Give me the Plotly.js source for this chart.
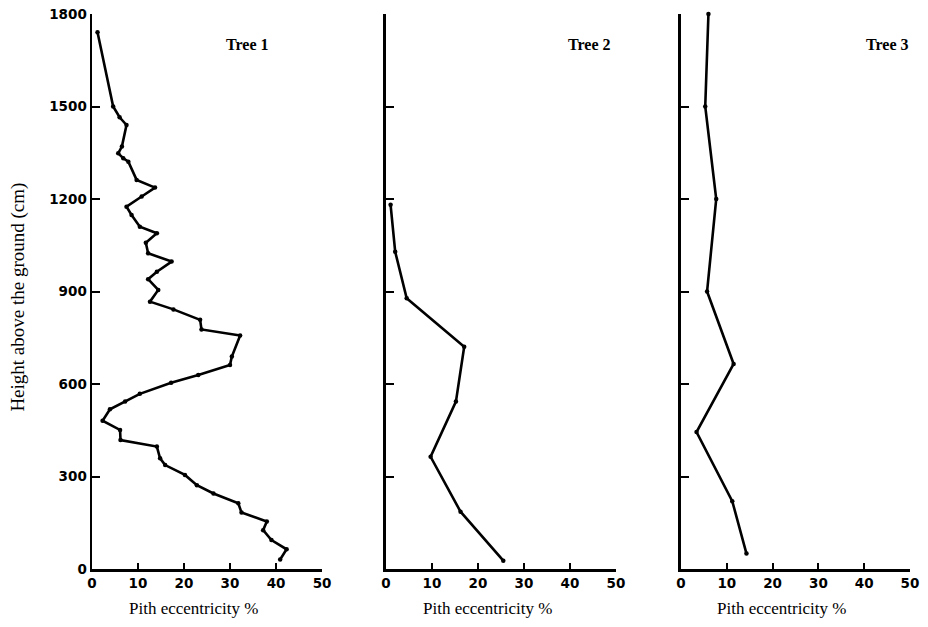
<!DOCTYPE html>
<html>
<head>
<meta charset="utf-8">
<script src="https://cdn.plot.ly/plotly-3.0.1.min.js"></script>
<style>html,body{margin:0;padding:0;background:#fff;}#chart{width:928px;height:627px;}</style>
</head>
<body>
<div id="chart"></div>
<script>
// Tree 1: height above ground (cm) and pith eccentricity (%)
const tree1Height = [1741, 1500, 1465, 1440, 1370, 1348, 1332, 1321, 1262, 1237, 1208, 1175, 1148, 1110, 1089, 1058, 1024, 997, 964, 940, 905, 867, 842, 808, 777, 757, 689, 662, 629, 604, 568, 543, 518, 481, 451, 418, 397, 359, 337, 305, 272, 245, 213, 183, 154, 126, 94, 64, 31];
const tree1Ecc    = [1.2, 4.6, 6.0, 7.5, 6.5, 5.7, 6.8, 7.9, 9.7, 13.7, 10.8, 7.5, 8.6, 10.4, 14.1, 11.7, 12.2, 17.3, 14.1, 12.2, 14.4, 12.6, 17.7, 23.5, 23.8, 32.2, 30.4, 30.0, 23.1, 17.2, 10.4, 7.2, 3.9, 2.3, 6.1, 6.2, 14.1, 14.8, 15.9, 20.2, 22.8, 26.4, 31.8, 32.5, 38.0, 37.2, 39.0, 42.3, 40.9];
// Tree 2
const tree2Height = [1181, 1029, 878, 721, 543, 364, 186, 27];
const tree2Ecc    = [1.0, 2.0, 4.5, 17.0, 15.2, 9.7, 16.2, 25.5];
// Tree 3
const tree3Height = [1800, 1500, 1200, 900, 665, 444, 220, 50];
const tree3Ecc    = [6.0, 5.3, 7.7, 5.7, 11.5, 3.4, 11.2, 14.3];

const treeLabels = ['Tree 1', 'Tree 2', 'Tree 3'];
const xTickVals = [0, 10, 20, 30, 40, 50];
const yTickVals = [0, 300, 600, 900, 1200, 1500, 1800];
const xTitle = 'Pith eccentricity %';
const yTitle = 'Height above the ground (cm)';

const lineStyle = {color: '#000', width: 2.6};
const markerStyle = {color: '#000', size: 4.5};
function trace(x, y, xa, ya) {
  return {x: x, y: y, xaxis: xa, yaxis: ya, type: 'scatter', mode: 'lines+markers',
          line: lineStyle, marker: markerStyle, hoverinfo: 'skip', cliponaxis: false};
}
const data = [
  trace(tree1Ecc, tree1Height, 'x', 'y'),
  trace(tree2Ecc, tree2Height, 'x2', 'y2'),
  trace(tree3Ecc, tree3Height, 'x3', 'y3')
];

const tickFont = {family: 'DejaVu Sans, Verdana, sans-serif', size: 13.5, color: '#000', weight: 'bold'};
function xAxis(domain, anchor) {
  return {domain: domain, anchor: anchor, range: [0, 50], tickvals: xTickVals,
          ticks: 'inside', ticklen: 6, tickwidth: 2, tickcolor: '#000',
          showline: true, linecolor: '#000', linewidth: 2.5, showgrid: false, zeroline: false,
          tickfont: tickFont, fixedrange: true};
}
function yAxis(anchor, showLabels) {
  return {domain: [0, 1], anchor: anchor, range: [0, 1800], tickvals: yTickVals,
          ticks: 'inside', ticklen: 8, tickwidth: 2, tickcolor: '#000',
          showticklabels: showLabels,
          showline: true, linecolor: '#000', linewidth: 2.5, showgrid: false, zeroline: false,
          tickfont: tickFont, fixedrange: true};
}

const serif = 'Liberation Serif, Times New Roman, serif';
const annotations = [
  {text: treeLabels[0], xref: 'x domain', yref: 'y domain', x: 0.675, y: 0.945, showarrow: false,
   xanchor: 'center', yanchor: 'middle', font: {family: serif, size: 16, color: '#000', weight: 'bold'}},
  {text: treeLabels[1], xref: 'x2 domain', yref: 'y2 domain', x: 0.985, y: 0.945, showarrow: false,
   xanchor: 'right', yanchor: 'middle', font: {family: serif, size: 16, color: '#000', weight: 'bold'}},
  {text: treeLabels[2], xref: 'x3 domain', yref: 'y3 domain', x: 1.005, y: 0.945, showarrow: false,
   xanchor: 'right', yanchor: 'middle', font: {family: serif, size: 16, color: '#000', weight: 'bold'}},
  {text: yTitle, xref: 'paper', yref: 'paper', x: -0.091, y: 0.49, textangle: -90, showarrow: false,
   xanchor: 'center', yanchor: 'middle', font: {family: serif, size: 19, color: '#000'}}
];
['x', 'x2', 'x3'].forEach(function (ax) {
  annotations.push({text: xTitle, xref: ax + ' domain', yref: 'paper', x: 0.44, y: -0.05,
    showarrow: false, xanchor: 'center', yanchor: 'top', font: {family: serif, size: 17, color: '#000'}});
});

const layout = {
  width: 928, height: 627,
  margin: {l: 92, r: 18, t: 14, b: 58},
  paper_bgcolor: '#fff', plot_bgcolor: '#fff',
  showlegend: false,
  xaxis: xAxis([0, 0.2812], 'y'),
  yaxis: yAxis('x', true),
  xaxis2: xAxis([0.3594, 0.6406], 'y2'),
  yaxis2: yAxis('x2', false),
  xaxis3: xAxis([0.7200, 1.0], 'y3'),
  yaxis3: yAxis('x3', false),
  annotations: annotations
};

Plotly.newPlot('chart', data, layout, {staticPlot: true, displayModeBar: false});
</script>
</body>
</html>
